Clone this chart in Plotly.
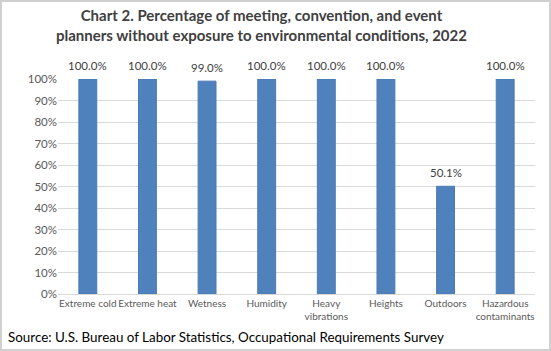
import plotly.graph_objects as go

categories = ["Extreme cold", "Extreme heat", "Wetness", "Humidity", "Heavy<br>vibrations",
              "Heights", "Outdoors", "Hazardous<br>contaminants"]
values = [100.0, 100.0, 99.0, 100.0, 100.0, 100.0, 50.1, 100.0]
tick_vals = [0, 10, 20, 30, 40, 50, 60, 70, 80, 90, 100]
tick_text = [f"{v}%" for v in tick_vals]

W, H = 551, 351
L, R, T, B = 58, 16, 79, 57
pw, ph = W - L - R, H - T - B

font_family = "Lato, Open Sans, sans-serif"

fig = go.Figure(go.Bar(
    x=categories, y=values,
    marker=dict(color="#4f81bd", line=dict(color="#4a7ab5", width=1)),
    width=0.3,
    hoverinfo="x+y",
))

label_annotations = [
    dict(x=c, y=v, xref="x", yref="y", text=f"{v:.1f}%", showarrow=False,
         yanchor="bottom", yshift=5,
         font=dict(size=11.5, color="#404040", family=font_family))
    for c, v in zip(categories, values)
]

fig.update_layout(
    width=W, height=H,
    margin=dict(l=L, r=R, t=T, b=B),
    paper_bgcolor="white", plot_bgcolor="white",
    showlegend=False,
    font=dict(family=font_family, size=10, color="#595959"),
    xaxis=dict(
        showline=True, linecolor="#d9d9d9", linewidth=1,
        ticks="", tickangle=0, tickfont=dict(size=10, color="#595959"),
        showgrid=False,
    ),
    yaxis=dict(
        range=[0, 100], tickvals=tick_vals, ticktext=tick_text,
        showgrid=True, gridcolor="#d9d9d9", gridwidth=1,
        zeroline=False, showline=False, ticks="",
        tickfont=dict(size=11.5, color="#595959"),
    ),
    annotations=label_annotations + [
        dict(text="<b>Chart 2. Percentage of meeting, convention, and event<br>planners without exposure to environmental conditions, 2022</b>",
             xref="paper", yref="paper",
             x=(261 - L) / pw, y=1 + (T - 4) / ph,
             xanchor="center", yanchor="top", showarrow=False,
             font=dict(size=15, color="#404040", family=font_family)),
        dict(text="Source: U.S. Bureau of Labor Statistics, Occupational Requirements Survey",
             xref="paper", yref="paper",
             x=(6 - L) / pw, y=-(337 - T - ph) / ph,
             xanchor="left", yanchor="middle", showarrow=False,
             font=dict(size=13.4, color="#000000", family=font_family)),
    ],
    shapes=[dict(type="rect", xref="paper", yref="paper",
                 x0=-(L - 1) / pw, x1=1 + (R - 1) / pw,
                 y0=-(B - 1) / ph, y1=1 + (T - 1) / ph,
                 line=dict(color="#d0d0d0", width=2), layer="below")],
)

fig.write_html("out.html")
